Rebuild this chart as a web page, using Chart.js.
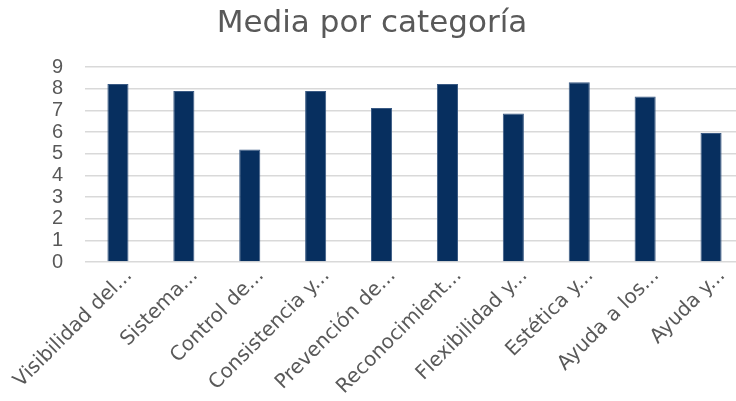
<!DOCTYPE html>
<html>
<head>
<meta charset="utf-8">
<script src="https://cdn.jsdelivr.net/npm/chart.js@4"></script>
<style>
  html, body { margin: 0; padding: 0; background: #fff; overflow: hidden; }
  #wrap { position: absolute; left: 0; top: 0; width: 766px; height: 401px; }
</style>
</head>
<body>
<div id="wrap"><canvas id="chart"></canvas></div>
<script>
const categories = [
  'Visibilidad del...', 'Sistema...', 'Control de...', 'Consistencia y...', 'Prevención de...',
  'Reconocimient...', 'Flexibilidad y...', 'Estética y...', 'Ayuda a los...', 'Ayuda y...'
];
const meanValues = [8.22, 7.9, 5.2, 7.9, 7.12, 8.22, 6.86, 8.3, 7.65, 5.96];
const yTicks = [0, 1, 2, 3, 4, 5, 6, 7, 8, 9];

const textColor = '#595959';

new Chart(document.getElementById('chart'), {
  type: 'bar',
  data: {
    labels: categories,
    datasets: [{
      label: 'Media',
      data: meanValues,
      backgroundColor: '#072f5f',
      borderColor: '#3a5a84',
      borderWidth: 1,
      categoryPercentage: 1,
      barPercentage: 0.32
    }]
  },
  options: {
    responsive: true,
    maintainAspectRatio: false,
    animation: false,
    layout: { padding: { left: 0, right: 22, top: 0, bottom: 0 } },
    plugins: {
      legend: { display: false },
      tooltip: { enabled: false },
      title: {
        display: true,
        text: 'Media por categoría',
        color: textColor,
        font: { family: 'DejaVu Sans', size: 31, weight: 'normal' },
        padding: { top: 5, bottom: 25 }
      }
    },
    scales: {
      x: {
        grid: { display: false, drawTicks: false },
        border: { display: false },
        ticks: {
          color: textColor,
          font: { family: 'DejaVu Sans', size: 20 },
          maxRotation: 45,
          minRotation: 45,
          autoSkip: false,
          labelOffset: 11,
          padding: 2
        },
        afterFit: (scale) => { scale.height = 139; }
      },
      y: {
        min: 0,
        max: 9,
        afterBuildTicks: (scale) => { scale.ticks = yTicks.map(v => ({ value: v })); },
        grid: { color: '#d9d9d9', lineWidth: 1.5, drawTicks: false },
        border: { display: false },
        ticks: {
          color: textColor,
          font: { family: 'Liberation Sans', size: 20 },
          autoSkip: false,
          padding: 22
        },
        afterFit: (scale) => { scale.width = 85; }
      }
    }
  }
});
</script>
</body>
</html>
